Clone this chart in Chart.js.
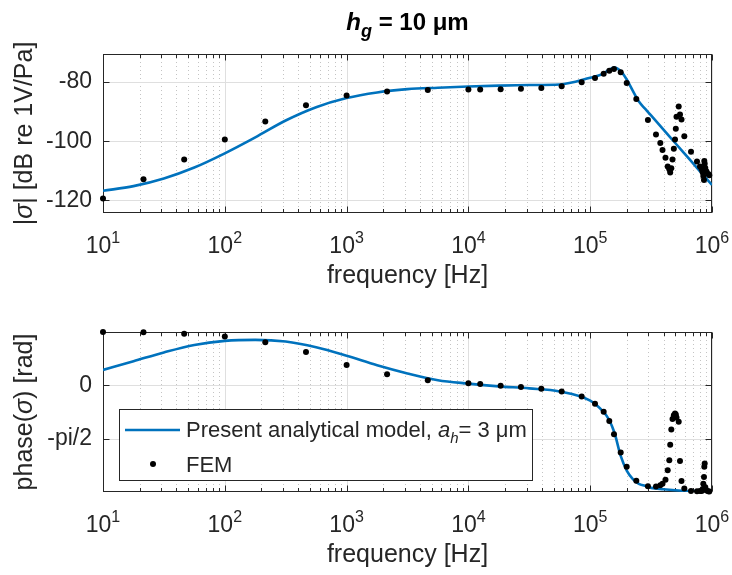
<!DOCTYPE html>
<html>
<head>
<meta charset="UTF-8">
<title>h_g = 10 um</title>
<script src="https://cdn.jsdelivr.net/npm/chart.js"></script>
<style>
  body { margin: 0; background: #fff; width: 732px; height: 575px; position: relative; overflow: hidden; }
  canvas { position: absolute; left: 0; }
  #magChart { top: 0; }
  #phaseChart { top: 300px; }
</style>
</head>
<body>
<canvas id="magChart" width="732" height="300"></canvas>
<canvas id="phaseChart" width="732" height="275"></canvas>
<script>
// analytical model
const lineFreq = [10, 17.8, 31.6, 56.2, 100, 178, 316, 562, 1000, 1780, 3160, 5620,
  1e4, 1.78e4, 3.16e4, 5.62e4, 1e5, 1.26e5, 1.41e5, 1.58e5, 1.78e5, 2e5, 2.24e5,
  2.51e5, 2.82e5, 3.16e5, 3.98e5, 5.01e5, 6.31e5, 7.94e5, 1e6];
const lineMag = [-116.8, -115.2, -112.6, -108.9, -104.1, -98.7, -93.0, -88.5, -85.4, -83.5, -82.4, -81.9,
  -81.5, -81.2, -81.0, -80.8, -78.5, -77.3, -76.0, -75.1, -76.3, -79.2, -83.0,
  -86.6, -89.0, -91.3, -96.0, -100.7, -105.4, -110.1, -114.8];
const linePhase = [0.455, 0.71, 0.97, 1.19, 1.31, 1.34, 1.29, 1.12, 0.87, 0.59, 0.35, 0.15,
  0.05, -0.03, -0.09, -0.18, -0.45, -0.75, -0.98, -1.39, -2.08, -2.52, -2.76,
  -2.90, -2.96, -3.02, -3.06, -3.09, -3.11, -3.12, -3.13];

// FEM points
const femFreq = [10, 21.5, 46.4, 100, 215, 464, 1000, 2150, 4640, 10000,
  12500, 18400, 27000, 39700, 58300, 85100, 109500, 129000, 143500, 156800, 178000, 199400,
  239000, 297700, 346800, 376300, 392400, 415000, 432800, 446100, 453800, 463300,
  474000, 486000, 497000, 504500, 511200, 533000, 546000, 561700, 592500, 672500,
  753000, 797000, 823000, 838700, 848300, 859500, 864500, 871000, 881000, 901000,
  932000, 950000];
const femMag = [-119.4, -112.9, -106.2, -99.4, -93.3, -87.8, -84.5, -83.2, -82.7, -82.5,
  -82.5, -82.4, -82.3, -82.0, -81.4, -80.1, -78.6, -77.2, -76.2, -75.6, -76.7, -80.3,
  -85.7, -92.8, -97.7, -100.6, -103.0, -105.6, -108.6, -109.5, -110.6, -109.2,
  -106.2, -102.6, -99.4, -95.8, -91.7, -88.3, -91.0, -92.7, -98.3, -103.6,
  -106.9, -108.6, -109.5, -110.5, -111.8, -113.1, -106.7, -107.6, -109.1, -110.3,
  -111.1, -111.5];
const femPhase = [1.57, 1.56, 1.52, 1.44, 1.27, 0.98, 0.60, 0.33, 0.15, 0.06,
  0.04, -0.01, -0.05, -0.10, -0.18, -0.33, -0.54, -0.78, -1.05, -1.44, -1.98, -2.40,
  -2.81, -2.97, -2.98, -2.94, -2.90, -2.78, -2.50, -2.21, -1.75, -1.30,
  -0.99, -0.88, -0.83, -0.86, -0.95, -1.07, -2.23, -2.82, -3.04, -3.11,
  -3.12, -3.11, -3.11, -3.05, -2.90, -2.70, -2.40, -2.30, -3.00, -3.10,
  -3.12, -3.13];

// axes
const decades = [1, 2, 3, 4, 5, 6];
const magTicks = [-120, -100, -80];
const magTickLabels = ['-120', '-100', '-80'];
const phaseTicks = [-Math.PI / 2, 0];
const phaseTickLabels = ['-pi/2', '0'];

const FONT = '"Liberation Sans", Arial, Helvetica, sans-serif';
const INK = '#262626';
const BLUE = '#0072BD';
const f = (size, style) => (style ? style + ' ' : '') + size + 'px ' + FONT;

function drawRuns(ctx, runs, x, y, align) {
  let w = 0;
  runs.forEach(r => { ctx.font = r.f; r.w = ctx.measureText(r.t).width; w += r.w; });
  let cx = align === 'center' ? x - w / 2 : x;
  ctx.textAlign = 'left';
  ctx.textBaseline = 'alphabetic';
  runs.forEach(r => { ctx.font = r.f; ctx.fillText(r.t, cx, y + (r.dy || 0)); cx += r.w; });
}

// grid, box, ticks and labels drawn the MATLAB way
function axesPlugin(cfg) {
  return {
    id: 'axes_' + cfg.id,
    beforeDatasetsDraw(chart) {
      const { ctx, chartArea: a, scales: { x, y } } = chart;
      ctx.save();
      ctx.lineWidth = 1;
      // minor x grid (dotted)
      ctx.strokeStyle = '#c4c4c4';
      ctx.setLineDash([1, 3]);
      for (let e = 1; e < 6; e++) {
        for (let m = 2; m < 10; m++) {
          const px = Math.round(x.getPixelForValue(m * 10 ** e)) + 0.5;
          ctx.beginPath(); ctx.moveTo(px, a.top); ctx.lineTo(px, a.bottom); ctx.stroke();
        }
      }
      ctx.setLineDash([]);
      // major grid
      ctx.strokeStyle = '#dfdfdf';
      decades.forEach(e => {
        const px = Math.round(x.getPixelForValue(10 ** e)) + 0.5;
        ctx.beginPath(); ctx.moveTo(px, a.top); ctx.lineTo(px, a.bottom); ctx.stroke();
      });
      cfg.ticks.forEach(v => {
        const py = Math.round(y.getPixelForValue(v)) + 0.5;
        ctx.beginPath(); ctx.moveTo(a.left, py); ctx.lineTo(a.right, py); ctx.stroke();
      });
      // ticks
      ctx.strokeStyle = INK;
      const L = Math.round(a.left) + 0.5, R = Math.round(a.right) - 0.5;
      const T = Math.round(a.top) + 0.5, B = Math.round(a.bottom) - 0.5;
      ctx.beginPath();
      for (let e = 1; e <= 6; e++) {
        for (let m = 1; m < 10; m++) {
          if (e === 6 && m > 1) break;
          const px = Math.round(x.getPixelForValue(m * 10 ** e)) + 0.5;
          const len = m === 1 ? 6 : 3.5;
          ctx.moveTo(px, B); ctx.lineTo(px, B - len);
          ctx.moveTo(px, T); ctx.lineTo(px, T + len);
        }
      }
      cfg.ticks.forEach(v => {
        const py = Math.round(y.getPixelForValue(v)) + 0.5;
        ctx.moveTo(L, py); ctx.lineTo(L + 6, py);
        ctx.moveTo(R, py); ctx.lineTo(R - 6, py);
      });
      ctx.stroke();
      ctx.strokeRect(L, T, R - L, B - T);
      ctx.restore();
    },
    afterDraw(chart) {
      const { ctx, chartArea: a, scales: { x } } = chart;
      ctx.save();
      ctx.fillStyle = INK;
      decades.forEach(e => {
        drawRuns(ctx, [{ t: '10', f: f(23) }, { t: String(e), f: f(16), dy: -10 }],
          x.getPixelForValue(10 ** e), a.bottom + 40, 'center');
      });
      const cx = (a.left + a.right) / 2;
      drawRuns(ctx, [{ t: 'frequency [Hz]', f: f(25) }], cx, a.bottom + 70, 'center');
      ctx.save();
      ctx.translate(32, (a.top + a.bottom) / 2);
      ctx.rotate(-Math.PI / 2);
      drawRuns(ctx, cfg.ylabel, 0, 0, 'center');
      ctx.restore();
      if (cfg.title) {
        ctx.fillStyle = '#000';
        drawRuns(ctx, cfg.title, cx, 30, 'center');
      }
      if (cfg.legend) {
        ctx.fillStyle = '#fff';
        ctx.strokeStyle = INK;
        ctx.lineWidth = 1;
        ctx.fillRect(119.5, 109.5, 413, 71);
        ctx.strokeRect(119.5, 109.5, 413, 71);
        ctx.strokeStyle = BLUE;
        ctx.lineWidth = 2.6;
        ctx.beginPath(); ctx.moveTo(125, 130); ctx.lineTo(180, 130); ctx.stroke();
        ctx.fillStyle = '#000';
        ctx.beginPath(); ctx.arc(153, 164, 3, 0, Math.PI * 2); ctx.fill();
        ctx.fillStyle = INK;
        drawRuns(ctx, [
          { t: 'Present analytical model, ', f: f(22) },
          { t: 'a', f: f(22, 'italic') },
          { t: 'h', f: f(15, 'italic'), dy: 6 },
          { t: '= 3 μm', f: f(22) }
        ], 186, 137, 'left');
        drawRuns(ctx, [{ t: 'FEM', f: f(22) }], 186, 172, 'left');
      }
      ctx.restore();
    }
  };
}

function makeChart(id, cfg) {
  return new Chart(document.getElementById(id), {
    type: 'scatter',
    data: {
      datasets: [
        {
          label: 'Present analytical model',
          data: lineFreq.map((v, i) => ({ x: v, y: cfg.line[i] })),
          showLine: true, pointRadius: 0, borderColor: BLUE, borderWidth: 2.6,
          cubicInterpolationMode: 'monotone', order: 2
        },
        {
          label: 'FEM',
          data: femFreq.map((v, i) => ({ x: v, y: cfg.fem[i] })),
          pointRadius: 3, pointBackgroundColor: '#000', pointBorderWidth: 0,
          clip: false, order: 1
        }
      ]
    },
    options: {
      responsive: false,
      animation: false,
      layout: { padding: { left: 0, right: 20, top: cfg.top, bottom: 0 } },
      plugins: { legend: { display: false }, tooltip: { enabled: false } },
      scales: {
        x: {
          type: 'logarithmic', min: 10, max: 1e6,
          grid: { display: false, drawTicks: false }, border: { display: false },
          ticks: { display: false },
          afterFit: s => { s.height = cfg.xh; }
        },
        y: {
          min: cfg.range[0], max: cfg.range[1],
          afterBuildTicks: s => { s.ticks = cfg.ticks.map(v => ({ value: v })); },
          ticks: {
            callback: v => cfg.tickLabels[cfg.ticks.findIndex(t => Math.abs(t - v) < 1e-6)],
            font: { family: FONT, size: 23 }, color: INK, padding: 11
          },
          grid: { display: false, drawTicks: false }, border: { display: false },
          afterFit: s => { s.width = 103; }
        }
      }
    },
    plugins: [axesPlugin(cfg)]
  });
}

makeChart('magChart', {
  id: 'mag', line: lineMag, fem: femMag, top: 54, xh: 87,
  range: [-124.3, -70.5], ticks: magTicks, tickLabels: magTickLabels,
  ylabel: [{ t: '|', f: f(25) }, { t: 'σ', f: f(25, 'italic') }, { t: '| [dB re 1V/Pa]', f: f(25) }],
  title: [{ t: 'h', f: f(24, 'italic bold') }, { t: 'g', f: f(18, 'italic bold'), dy: 7 }, { t: ' = 10 μm', f: f(24, 'bold') }]
});

makeChart('phaseChart', {
  id: 'phase', line: linePhase, fem: femPhase, top: 32, xh: 83,
  range: [-Math.PI, Math.PI / 2], ticks: phaseTicks, tickLabels: phaseTickLabels,
  ylabel: [{ t: 'phase(', f: f(25) }, { t: 'σ', f: f(25, 'italic') }, { t: ') [rad]', f: f(25) }],
  legend: true
});
</script>
</body>
</html>
